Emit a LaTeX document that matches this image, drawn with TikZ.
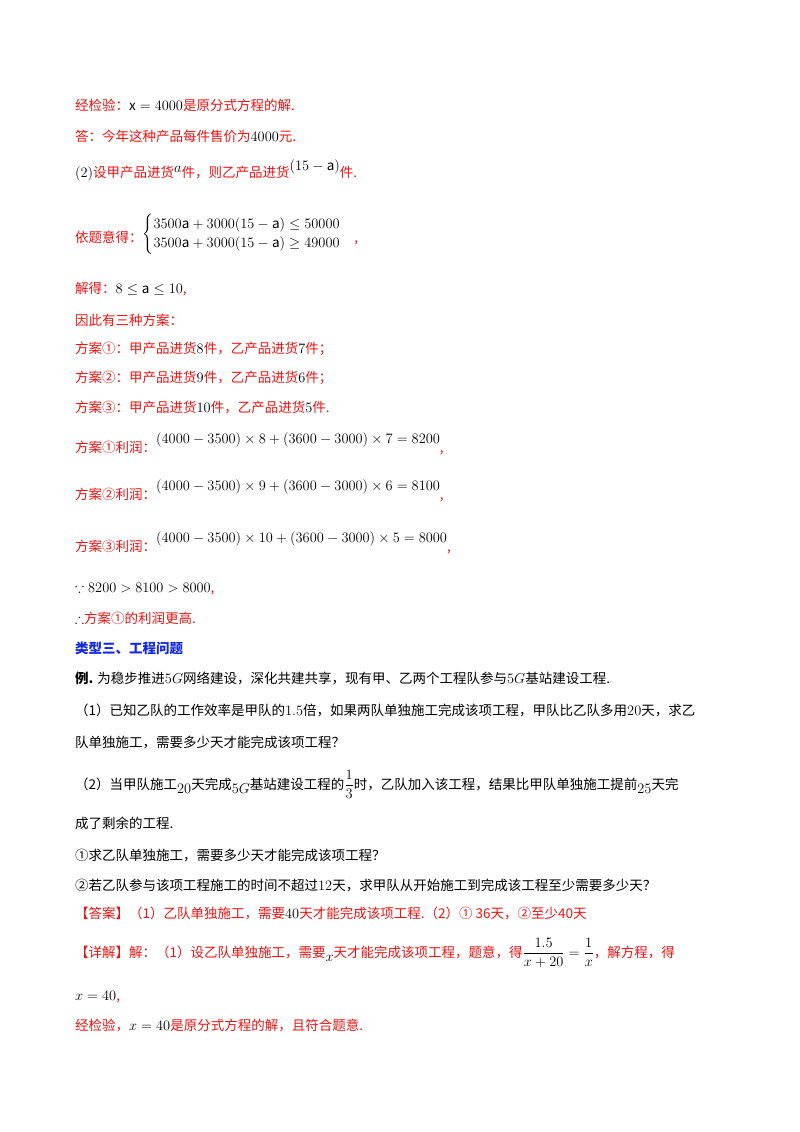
\documentclass[tikz,border=0pt]{standalone}
\usepackage{fontspec}
\usepackage{amsmath,amssymb}
\setmainfont{Noto Sans CJK SC}
\definecolor{rd}{RGB}{235,20,20}
\definecolor{bl}{RGB}{20,40,230}
\newcommand{\rr}[1]{\textcolor{rd}{#1}}
\tikzset{ln/.style={anchor=base west,inner sep=0pt,font=\fontsize{13.5}{16}\selectfont}}
\begin{document}
\begin{tikzpicture}[x=1pt,y=-1pt]
\useasboundingbox (0,0) rectangle (800,1132);
\fill[white] (0,0) rectangle (800,1132);
\node[ln] (l1) at (75,110) {\rr{经检验：}$\mathrm{x}=4000$\rr{是原分式方程的解.}};
\node[ln] (l2) at (75,141) {\rr{答：今年这种产品每件售价为}$4000$\rr{元.}};
\node[ln] (l3) at (75,177) {$(2)$\rr{设甲产品进货}\raisebox{5pt}{$a$}\rr{件，则乙产品进货}\raisebox{7pt}{$(15-\mathrm{a})$}\rr{件.}};
\node[ln] (l4) at (75,242) {\rr{依题意得：}\raisebox{4pt}{$\begin{cases}3500\mathrm{a}+3000(15-\mathrm{a})\le 50000\\3500\mathrm{a}+3000(15-\mathrm{a})\ge 49000\end{cases}$}\rr{,}};
\node[ln] (l5) at (75,293) {\rr{解得：}$8\le \mathrm{a}\le 10$\rr{,}};
\node[ln] (l6) at (75,325) {\rr{因此有三种方案：}};
\node[ln] (l7) at (75,353) {\rr{方案①：甲产品进货}$8$\rr{件，乙产品进货}$7$\rr{件；}};
\node[ln] (l8) at (75,382) {\rr{方案②：甲产品进货}$9$\rr{件，乙产品进货}$6$\rr{件；}};
\node[ln] (l9) at (75,412) {\rr{方案③：甲产品进货}$10$\rr{件，乙产品进货}$5$\rr{件.}};
\node[ln] (l10) at (75,452) {\rr{方案①利润：}\raisebox{9pt}{$(4000-3500)\times 8+(3600-3000)\times 7=8200$}\rr{,}};
\node[ln] (l11) at (75,499) {\rr{方案②利润：}\raisebox{9pt}{$(4000-3500)\times 9+(3600-3000)\times 6=8100$}\rr{,}};
\node[ln] (l12) at (75,551) {\rr{方案③利润：}\raisebox{9pt}{$(4000-3500)\times 10+(3600-3000)\times 5=8000$}\rr{,}};
\node[ln] (l13) at (75,592) {$\because 8200>8100>8000$\rr{,}};
\node[ln] (l14) at (75,623) {$\therefore$\rr{方案①的利润更高.}};
\node[ln] (l15) at (75,653) {\textcolor{bl}{\bfseries 类型三、工程问题}};
\node[ln] (l16) at (75,683) {\textbf{例.} 为稳步推进$5G$网络建设，深化共建共享，现有甲、乙两个工程队参与$5G$基站建设工程.};
\node[ln] (l17) at (75,715) {（1）已知乙队的工作效率是甲队的$1.5$倍，如果两队单独施工完成该项工程，甲队比乙队多用$20$天，求乙};
\node[ln] (l18) at (75,747) {队单独施工，需要多少天才能完成该项工程？};
\node[ln] (l19) at (75,789) {（2）当甲队施工\raisebox{-4pt}{$20$}天完成\raisebox{-4pt}{$5G$}基站建设工程的$\dfrac{1}{3}$时，乙队加入该工程，结果比甲队单独施工提前\raisebox{-4pt}{$25$}天完};
\node[ln] (l20) at (75,828) {成了剩余的工程.};
\node[ln] (l21) at (75,860) {①求乙队单独施工，需要多少天才能完成该项工程？};
\node[ln] (l22) at (75,890) {②若乙队参与该项工程施工的时间不超过$12$天，求甲队从开始施工到完成该工程至少需要多少天？};
\node[ln] (l23) at (75,918) {\rr{【答案】（1）乙队单独施工，需要}$40$\rr{天才能完成该项工程.（2）① 36天，②至少40天}};
\node[ln] (l24) at (75,957) {\rr{【详解】解：（1）设乙队单独施工，需要}\raisebox{-4pt}{$x$}\rr{天才能完成该项工程，题意，得}$\dfrac{1.5}{x+20}=\dfrac{1}{x}$\rr{，解方程，得}};
\node[ln] (l25) at (75,1000) {$x=40$\rr{,}};
\node[ln] (l26) at (75,1030) {\rr{经检验，}$x=40$\rr{是原分式方程的解，且符合题意.}};
\end{tikzpicture}
\end{document}
